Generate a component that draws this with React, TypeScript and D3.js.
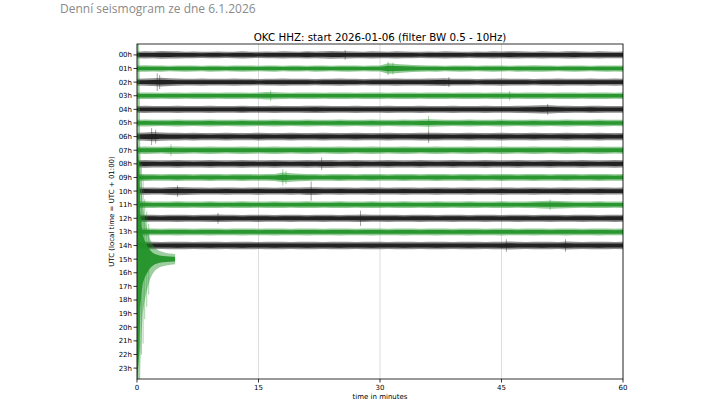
import React from "react";
import * as d3 from "d3";

const W = 715;
const H = 402;

const pageTitle = "Denní seismogram ze dne 6.1.2026";
const chartTitle = "OKC HHZ: start 2026-01-06 (filter BW 0.5 - 10Hz)";
const xLabel = "time in minutes";
const yLabel = "UTC (local time = UTC + 01:00)";

const hourLabels = [
  "00h", "01h", "02h", "03h", "04h", "05h", "06h", "07h", "08h", "09h", "10h", "11h",
  "12h", "13h", "14h", "15h", "16h", "17h", "18h", "19h", "20h", "21h", "22h", "23h",
];
const xTicks = [0, 15, 30, 45, 60];

// envelope amplitude (1 unit = 1/10 of the row spacing), one value per minute 0..60
const row00 = [2.4,2.6,2.5,2.8,2.7,2.6,2.4,2.5,2.3,2.4,2.5,2.3,2.4,2.6,2.4,2.3,2.5,2.4,2.6,2.5,2.4,2.7,2.5,2.6,2.8,2.7,2.6,2.5,2.4,2.6,2.5,2.4,2.6,2.5,2.4,2.3,2.5,2.4,2.6,2.5,2.4,2.3,2.5,2.4,2.6,2.5,2.7,2.6,2.5,2.4,2.6,2.5,2.4,2.6,2.7,2.5,2.4,2.6,2.5,2.4,2.5];
const row01 = [2.3,2.4,2.2,2.3,2.1,2.2,2.3,2.2,2.1,2.3,2.2,2.1,2.2,2.3,2.2,2.1,2.2,2.3,2.1,2.2,2.2,2.1,2.3,2.2,2.1,2.2,2.3,2.2,2.1,2.2,2.2,3.8,3.4,3.0,2.6,2.4,2.2,2.3,2.1,2.2,2.3,2.2,2.1,2.2,2.3,2.2,2.1,2.3,2.2,2.4,2.3,2.2,2.1,2.2,2.3,2.2,2.1,2.2,2.3,2.2,2.3];
const row02 = [2.5,2.6,2.8,3.2,2.8,2.6,2.5,2.4,2.6,2.5,2.4,2.5,2.6,2.4,2.5,2.3,2.4,2.5,2.6,2.4,2.5,2.4,2.3,2.5,2.4,2.6,2.5,2.4,2.3,2.5,2.4,2.5,2.6,2.4,2.5,2.4,2.6,2.7,2.8,2.5,2.4,2.5,2.3,2.4,2.5,2.6,2.4,2.5,2.4,2.3,2.5,2.4,2.6,2.5,2.4,2.5,2.6,2.4,2.5,2.6,2.5];
const row03 = [2.3,2.4,2.3,2.2,2.4,2.3,2.2,2.3,2.4,2.3,2.2,2.3,2.4,2.3,2.2,2.4,2.7,2.5,2.3,2.2,2.3,2.4,2.3,2.2,2.3,2.4,2.3,2.2,2.3,2.4,2.3,2.2,2.3,2.4,2.3,2.2,2.3,2.4,2.3,2.2,2.3,2.4,2.3,2.2,2.3,2.4,2.3,2.2,2.3,2.4,2.3,2.2,2.3,2.4,2.3,2.2,2.3,2.4,2.3,2.2,2.3];
const row04 = [2.5,2.6,2.5,2.4,2.5,2.6,2.5,2.4,2.5,2.6,2.5,2.4,2.5,2.7,2.5,2.4,2.5,2.6,2.5,2.4,2.5,2.6,2.7,2.6,2.5,2.4,2.5,2.6,2.5,2.4,2.5,2.6,2.5,2.4,2.5,2.6,2.5,2.4,2.5,2.6,2.5,2.4,2.5,2.6,2.5,2.4,2.5,2.6,2.7,2.8,3.1,3.0,2.7,2.6,2.5,2.4,2.7,2.6,2.5,2.4,2.5];
const row05 = [2.4,2.5,2.4,2.3,2.4,2.5,2.4,2.3,2.4,2.5,2.4,2.3,2.4,2.5,2.4,2.3,2.4,2.5,2.4,2.3,2.4,2.5,2.4,2.3,2.4,2.5,2.4,2.3,2.4,2.5,2.4,2.3,2.4,2.5,2.4,2.6,2.7,2.5,2.4,2.3,2.4,2.5,2.4,2.3,2.4,2.5,2.4,2.3,2.4,2.5,2.4,2.3,2.4,2.5,2.4,2.3,2.4,2.5,2.4,2.3,2.4];
const row06 = [2.8,3.1,3.4,3.0,2.8,2.8,2.7,2.8,2.7,2.6,2.7,2.8,2.7,2.6,2.7,2.8,2.7,2.6,2.7,2.8,2.7,2.6,2.7,2.8,2.7,2.6,2.7,2.8,2.7,2.6,2.7,2.8,2.7,2.6,2.7,2.8,2.9,2.8,2.7,2.6,2.7,2.8,2.7,2.6,2.7,2.8,2.7,2.6,2.7,2.8,2.7,2.6,2.7,2.8,2.7,2.6,2.7,2.8,2.7,2.6,2.7];
const row07 = [2.6,2.7,2.6,2.5,2.8,2.7,2.6,2.5,2.6,2.7,2.6,2.5,2.6,2.7,2.6,2.5,2.6,2.7,2.6,2.5,2.6,2.7,2.6,2.5,2.6,2.7,2.6,2.5,2.6,2.7,2.6,2.5,2.6,2.7,2.6,2.5,2.6,2.7,2.6,2.5,2.6,2.7,2.6,2.5,2.6,2.7,2.6,2.5,2.6,2.7,2.6,2.5,2.6,2.7,2.6,2.5,2.6,2.7,2.6,2.5,2.6];
const row08 = [2.7,2.8,2.7,2.6,2.7,2.8,2.7,2.6,2.7,2.8,2.7,2.6,2.7,2.8,2.7,2.6,2.7,2.8,2.7,2.6,2.7,2.8,2.7,2.9,2.8,2.6,2.7,2.8,2.7,2.6,2.7,2.8,2.7,2.6,2.7,2.8,2.7,2.6,2.7,2.8,2.7,2.6,2.7,2.8,2.7,2.6,2.7,2.8,2.7,2.6,2.7,2.8,2.7,2.6,2.7,2.8,2.7,2.6,2.7,2.8,2.7];
const row09 = [2.5,2.6,2.5,2.4,2.5,2.6,2.5,2.4,2.5,2.6,2.5,2.4,2.5,2.6,2.5,2.4,2.5,2.6,3.6,3.1,2.8,2.6,2.5,2.4,2.5,2.6,2.5,2.4,2.5,2.6,2.5,2.4,2.5,2.6,2.5,2.4,2.5,2.6,2.5,2.4,2.5,2.6,2.5,2.4,2.5,2.6,2.5,2.4,2.5,2.6,2.5,2.4,2.5,2.6,2.5,2.4,2.5,2.6,2.5,2.4,2.5];
const row10 = [2.6,2.7,2.6,2.5,2.8,3.0,2.8,2.7,2.6,2.5,2.6,2.7,2.6,2.5,2.6,2.7,2.6,2.5,2.6,2.7,2.6,2.8,2.8,2.6,2.6,2.7,2.6,2.5,2.6,2.7,2.6,2.5,2.6,2.7,2.6,2.5,2.6,2.7,2.6,2.5,2.6,2.7,2.6,2.5,2.6,2.7,2.6,2.5,2.6,2.7,2.6,2.5,2.6,2.7,2.6,2.5,2.6,2.7,2.6,2.5,2.6];
const row11 = [2.4,2.5,2.4,2.3,2.4,2.5,2.4,2.3,2.4,2.5,2.4,2.3,2.4,2.5,2.4,2.3,2.4,2.5,2.4,2.3,2.4,2.5,2.4,2.3,2.4,2.5,2.4,2.3,2.4,2.5,2.4,2.3,2.4,2.5,2.4,2.3,2.4,2.5,2.4,2.3,2.4,2.5,2.4,2.3,2.4,2.5,2.4,2.3,2.4,2.5,2.8,2.9,2.8,2.6,2.4,2.3,2.4,2.5,2.4,2.3,2.4];
const row12 = [2.6,2.7,2.6,2.5,2.6,2.7,2.6,2.5,2.6,2.7,2.8,2.7,2.6,2.5,2.6,2.7,2.6,2.5,2.6,2.7,2.6,2.5,2.6,2.7,2.6,2.5,2.6,2.7,2.8,2.6,2.6,2.7,2.6,2.5,2.6,2.7,2.6,2.5,2.6,2.7,2.6,2.5,2.6,2.7,2.6,2.5,2.6,2.7,2.6,2.5,2.6,2.7,2.6,2.5,2.6,2.7,2.6,2.5,2.6,2.7,2.6];
const row13 = [2.5,2.6,2.5,2.4,2.5,2.6,2.5,2.4,2.5,2.6,2.5,2.4,2.5,2.6,2.5,2.4,2.5,2.6,2.5,2.4,2.5,2.6,2.5,2.4,2.5,2.6,2.5,2.4,2.5,2.6,2.5,2.4,2.5,2.6,2.5,2.4,2.5,2.6,2.5,2.4,2.5,2.6,2.5,2.4,2.5,2.6,2.5,2.4,2.5,2.6,2.5,2.4,2.5,2.6,2.5,2.4,2.5,2.6,2.5,2.4,2.5];
const row14 = [2.7,2.8,2.7,2.6,2.7,2.8,2.7,2.6,2.7,2.8,2.7,2.6,2.7,2.8,2.7,2.6,2.7,2.8,2.7,2.6,2.7,2.8,2.7,2.6,2.7,2.8,2.7,2.6,2.7,2.8,2.7,2.6,2.7,2.8,2.7,2.6,2.7,2.8,2.7,2.6,2.7,2.8,2.7,2.6,2.7,2.8,2.9,2.7,2.6,2.7,2.8,2.7,2.6,2.9,2.7,2.6,2.7,2.8,2.7,2.6,2.7];
const fullRows = [row00, row01, row02, row03, row04, row05, row06, row07, row08, row09, row10, row11, row12, row13, row14];

// 15h trace: big event at the start, record ends at ~4.7 min
const quakeMinutes = [0, 0.3, 0.4, 0.55, 0.7, 0.9, 1.1, 1.35, 1.6, 1.9, 2.2, 2.5, 2.8, 3.2, 3.6, 4.0, 4.4, 4.7];
const quakeAmps = [200, 150, 80, 55, 40, 32, 26, 20, 15, 11, 8.5, 7, 6, 5.2, 4.6, 4.2, 4.0, 3.8];

// individual short spikes: [row, minute, amplitude]
const spikes: [number, number, number][] = [
  [0, 25.7, 3.6], [1, 31.0, 5.0], [1, 31.6, 4.4], [2, 2.5, 6.5], [2, 2.8, 5.2], [2, 38.5, 3.6],
  [3, 16.5, 4.0], [3, 46.0, 3.4], [4, 50.7, 4.0], [5, 36.0, 5.2], [6, 1.8, 6.2], [6, 2.3, 5.0],
  [6, 36.0, 4.6], [7, 4.2, 4.4], [8, 22.8, 4.6], [9, 18.0, 6.0], [9, 18.4, 4.8],
  [10, 21.5, 7.0], [10, 5.0, 4.2], [11, 51.0, 3.8], [12, 27.6, 5.6], [12, 10.0, 4.0],
  [14, 45.6, 4.6], [14, 52.9, 4.6],
  [15, 0.55, 70], [15, 0.75, 62], [15, 0.95, 44], [15, 1.2, 35], [15, 1.45, 26],
];

const colors = ["#1c1c1c", "#24932a"];

export default function App() {
  const x = d3.scaleLinear().domain([0, 60]).range([137, 623]);
  const y = d3.scaleLinear().domain([-0.8, 23.8]).range([44, 379]);
  const rowPx = y(1) - y(0);
  const a = (v: number) => v * 0.1 * rowPx;

  const makeArea = (row: number, k: number) =>
    d3
      .area<[number, number]>()
      .x((d) => x(d[0]))
      .y0((d) => y(row) - a(d[1]) * k)
      .y1((d) => y(row) + a(d[1]) * k)
      .curve(d3.curveLinear);

  const rowsData: { row: number; pts: [number, number][] }[] = fullRows.map((arr, i) => ({
    row: i,
    pts: arr.map((v, m) => [m, v] as [number, number]),
  }));
  rowsData.push({
    row: 15,
    pts: quakeMinutes.map((m, i) => [m, quakeAmps[i]] as [number, number]),
  });

  const font = "DejaVu Sans, sans-serif";

  return (
    <svg
      width={W}
      height={H}
      style={{ position: "absolute", left: 0, top: 0, background: "#fff" }}
    >
      <defs>
        <clipPath id="plotClip">
          <rect x={x(0)} y={y(-0.8)} width={x(60) - x(0)} height={y(23.8) - y(-0.8)} />
        </clipPath>
      </defs>
      <text x={60} y={13} fontFamily="Open Sans, sans-serif" fontSize={12} fill="#8a8a8a">
        {pageTitle}
      </text>
      <text x={380} y={41} textAnchor="middle" fontFamily={font} fontSize={10.3} fill="#000">
        {chartTitle}
      </text>

      {/* grid */}
      {xTicks.map((t) => (
        <line key={"g" + t} x1={x(t)} x2={x(t)} y1={y(-0.8)} y2={y(23.8)} stroke="#d4d4d4" strokeWidth={0.8} />
      ))}

      <g clipPath="url(#plotClip)">
        {rowsData.map((r) => {
          const c = colors[r.row % 2];
          const quake = r.row === 15;
          return (
            <g key={"r" + r.row}>
              <path d={makeArea(r.row, 1)(r.pts) || ""} fill={c} fillOpacity={quake ? 0.45 : 0.5} />
              <path d={makeArea(r.row, quake ? 0.45 : 0.55)(r.pts) || ""} fill={c} fillOpacity={0.95} />
              {spikes
                .filter((s) => s[0] === r.row)
                .map((s, i) => (
                  <line
                    key={i}
                    x1={x(s[1])}
                    x2={x(s[1])}
                    y1={y(r.row) - a(s[2])}
                    y2={y(r.row) + a(s[2])}
                    stroke={c}
                    strokeWidth={0.7}
                    strokeOpacity={0.6}
                  />
                ))}
            </g>
          );
        })}
      </g>

      {/* frame */}
      <rect x={x(0)} y={y(-0.8)} width={x(60) - x(0)} height={y(23.8) - y(-0.8)} fill="none" stroke="#000" strokeWidth={0.8} />

      {/* y ticks */}
      {hourLabels.map((h, i) => (
        <g key={h}>
          <line x1={x(0) - 3.5} x2={x(0)} y1={y(i)} y2={y(i)} stroke="#000" strokeWidth={0.8} />
          <text x={x(0) - 5} y={y(i)} dy="0.35em" textAnchor="end" fontFamily={font} fontSize={7} fill="#000">
            {h}
          </text>
        </g>
      ))}

      {/* x ticks */}
      {xTicks.map((t) => (
        <g key={"x" + t}>
          <line x1={x(t)} x2={x(t)} y1={y(23.8)} y2={y(23.8) + 3.5} stroke="#000" strokeWidth={0.8} />
          <text x={x(t)} y={y(23.8) + 11} textAnchor="middle" fontFamily={font} fontSize={7} fill="#000">
            {t}
          </text>
        </g>
      ))}
      <text x={380} y={399} textAnchor="middle" fontFamily={font} fontSize={7} fill="#000">
        {xLabel}
      </text>
      <text
        transform={`translate(114, ${(y(-0.8) + y(23.8)) / 2}) rotate(-90)`}
        textAnchor="middle"
        fontFamily={font}
        fontSize={7}
        fill="#000"
      >
        {yLabel}
      </text>
    </svg>
  );
}
